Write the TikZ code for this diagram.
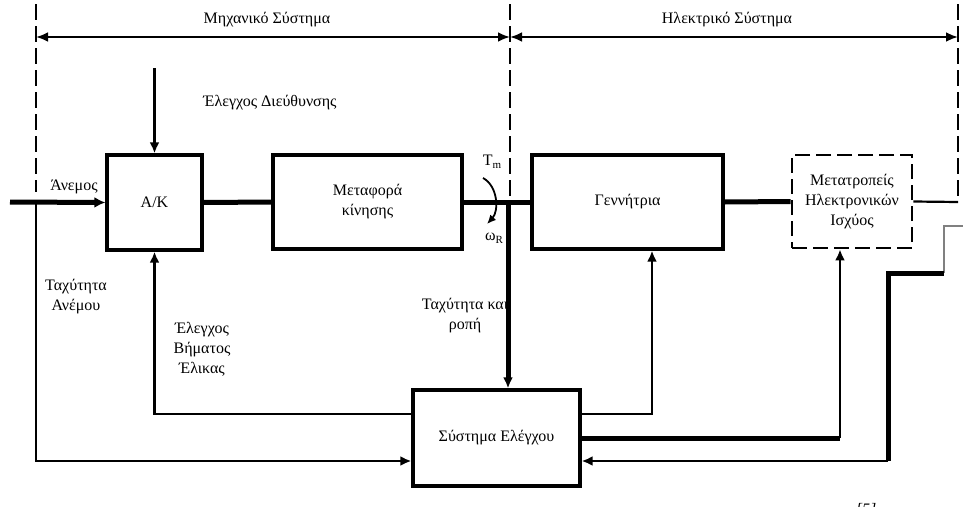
\documentclass[tikz,border=0pt]{standalone}
\usepackage{fontspec}
\setmainfont{Liberation Serif}
\usetikzlibrary{arrows.meta}
\begin{document}
\begin{tikzpicture}[x=1pt,y=-1pt,
  font=\fontsize{16}{20}\selectfont,
  blk/.style={draw,line width=3.3pt,inner sep=0pt,align=center},
  dashblk/.style={draw,line width=2.8pt,dash pattern=on 15pt off 6pt,inner sep=0pt,align=center},
  sep/.style={line width=2.8pt,dash pattern=on 16pt off 6pt},
  conn/.style={line width=2.7pt},
  thk/.style={line width=5pt},
  tip/.style={-{Latex[length=11pt,width=10pt]}},
  dtip/.style={{Latex[length=12pt,width=10pt]}-{Latex[length=12pt,width=10pt]}},
  lbl/.style={align=center,inner sep=0pt}]
\useasboundingbox (0,0) rectangle (963,506);

% system separators
\coordinate (sL) at (36,37);
\coordinate (sM) at (510,37);
\coordinate (sR) at (958,37);
\draw[sep] (36,4) -- (36,192);
\draw[sep] (510,4) -- (510,196);
\draw[sep] (958,4) -- (958,200);
\draw[line width=2.8pt,dtip] (sL) -- (sM);
\draw[line width=2.8pt,dtip] (sM) -- (sR);
\node[lbl] (mech) at (267,20) {Μηχανικό Σύστημα};
\node[lbl] (elec) at (727,20) {Ηλεκτρικό Σύστημα};

% blocks
\node[blk,minimum width=95pt,minimum height=95pt] (ak) at (154.5,202.5) {Α/Κ};
\node[blk,minimum width=189pt,minimum height=94pt] (mk) at (367.5,202) {Μεταφορά\\κίνησης};
\node[blk,minimum width=191pt,minimum height=94pt] (gen) at (627.5,202) {Γεννήτρια};
\node[dashblk,minimum width=120pt,minimum height=93pt] (conv) at (852,201.5) {Μετατροπείς\\Ηλεκτρονικών\\Ισχύος};
\node[blk,minimum width=167pt,minimum height=96pt] (ctrl) at (496.5,438) {Σύστημα Ελέγχου};

% labels
\node[lbl] (dir) at (270,103) {Έλεγχος Διεύθυνσης};
\node[lbl] (wind) at (74,187) {Άνεμος};
\node[lbl] (tm) at (492,162) {T\raisebox{-0.35ex}{\fontsize{11}{11}\selectfont m}};
\node[lbl] (wr) at (494,238) {ω\raisebox{-0.35ex}{\fontsize{11}{11}\selectfont R}};
\node[lbl] (ws) at (76,297) {Ταχύτητα\\Ανέμου};
\node[lbl] (pitch) at (202,349) {Έλεγχος\\Βήματος\\Έλικας};
\node[lbl] (sptq) at (465,316) {Ταχύτητα και\\ροπή};

% coordinates
\coordinate (win) at (10,202);
\coordinate (dirtop) at (154.5,68);
\coordinate (wsd) at (36,461);
\coordinate (shaft) at (508,202);
\coordinate (cvend) at (958,202);
\coordinate (gin) at (963,226);
\coordinate (g1) at (944,226);
\coordinate (g2) at (944,273);
\coordinate (r1) at (888,273);
\coordinate (r2) at (888,461);
\coordinate (gx) at (652,414);
\coordinate (cx) at (840,438);

% power path
\draw[thk,-{Latex[length=11pt,width=11pt]}] (win) -- (ak.west);
\draw[thk] (ak.east) -- (mk.west);
\draw[thk] (mk.east) -- (gen.west);
\draw[thk] (gen.east) -- (conv.west);
\draw[line width=2.2pt] (conv.east) -- (cvend);

% inputs / control
\draw[conn,tip] (dirtop) -- (ak.north);
\draw[conn,tip] (36,202) -- (wsd) -- (wsd -| ctrl.west);
\draw[thk,tip] (shaft) -- (shaft |- ctrl.north);
\draw[conn,tip] (ctrl.west |- 0,414) -| (ak.south);
\draw[conn,tip] (ctrl.east |- gx) -| (gen.south -| gx);
\draw[thk] (ctrl.east |- cx) -- (cx);
\draw[conn,tip] (cx) -- (cx |- conv.south);
\draw[line width=2.2pt,gray] (gin) -- (g1) -- (g2);
\draw[thk] (g2) -- (r1) -- (r2);
\draw[conn,tip] (r2) -- (r2 -| ctrl.east);

% torque / speed arrow
\draw[line width=1.8pt,-{Latex[length=9pt,width=8pt]}] (483,178) .. controls (498,186) and (499,211) .. (487,224);

% truncated reference mark
\begin{scope}
\clip (0,0) rectangle (963,506);
\node[lbl,font=\fontsize{16}{20}\selectfont\itshape] (ref) at (866,510) {[5]};
\end{scope}
\end{tikzpicture}
\end{document}
